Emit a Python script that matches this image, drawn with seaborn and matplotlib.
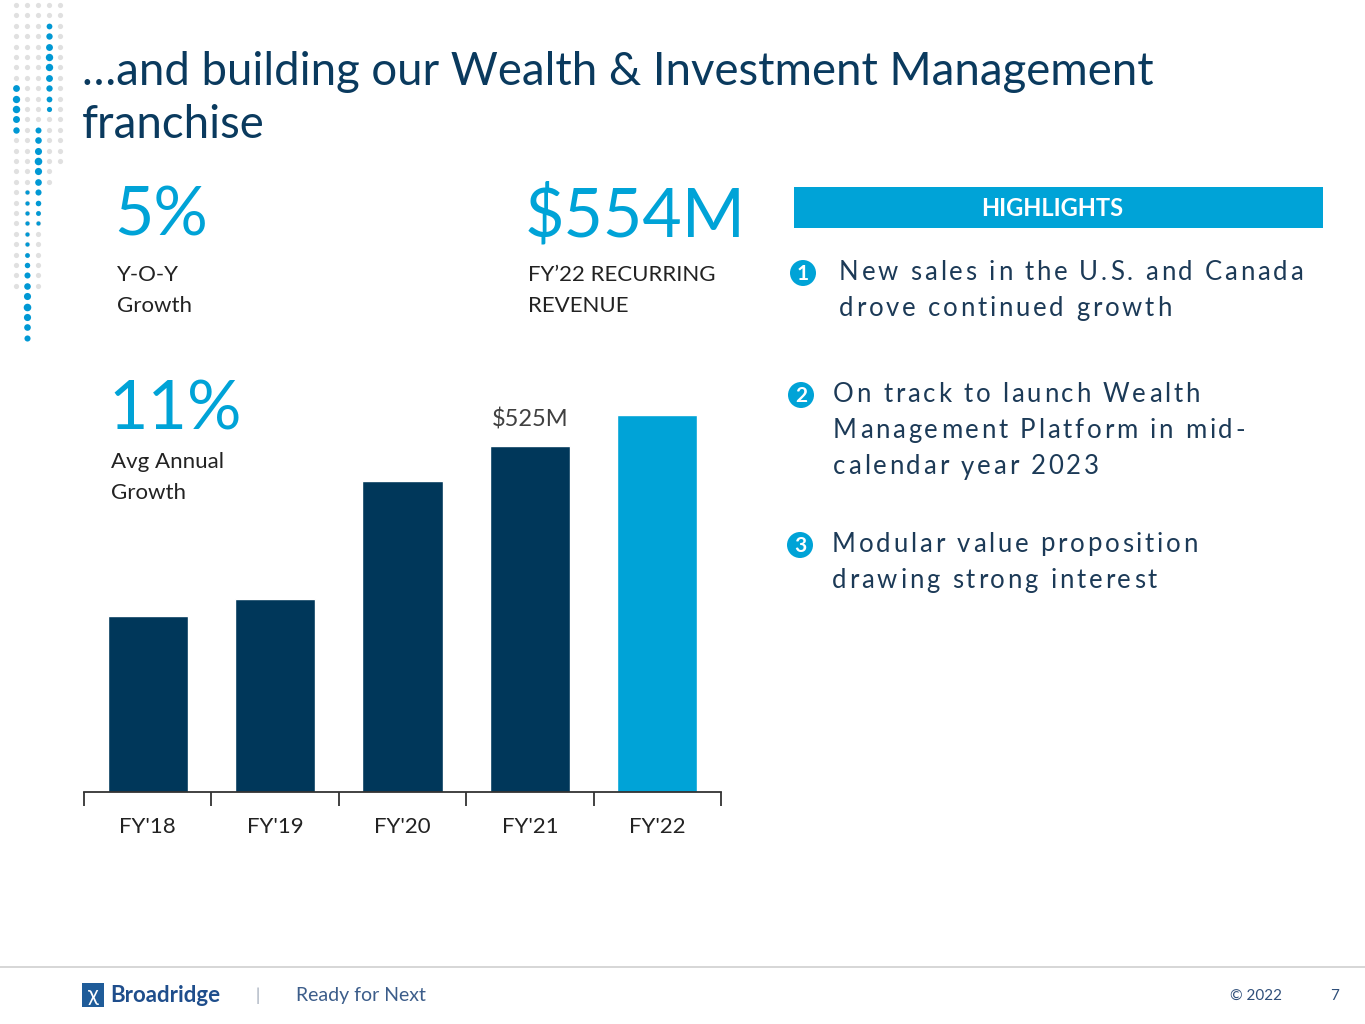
import numpy as np
import matplotlib.pyplot as plt
import seaborn as sns
from matplotlib.patches import Circle, Rectangle
from matplotlib.font_manager import FontProperties
from matplotlib.textpath import TextToPath

# chart data ($M, recurring revenue)
years = ["FY'18", "FY'19", "FY'20", "FY'21", "FY'22"]
revenue = [366, 382, 492, 525, 554]
bar_colors = ["#00375A", "#00375A", "#00375A", "#00375A", "#00A3D7"]

# slide text
title_lines = ["\u2026and building our Wealth & Investment Management", "franchise"]
kpis = [("5%", ["Y-O-Y", "Growth"]),
        ("$554M", ["FY\u201922 RECURRING", "REVENUE"]),
        ("11%", ["Avg Annual", "Growth"])]
highlights = [["New sales in the U.S. and Canada", "drove continued growth"],
              ["On track to launch Wealth", "Management Platform in mid-", "calendar year 2023"],
              ["Modular value proposition", "drawing strong interest"]]

NAVY = "#00375A"
BLUE = "#00A3D7"
TXT = "#1C3A57"

sns.set_theme(style="white")
plt.rcParams['font.family'] = ['Lato', 'DejaVu Sans']

fig = plt.figure(figsize=(13.65, 10.24), dpi=100)

# full-slide overlay in pixel coords
bg = fig.add_axes([0, 0, 1, 1])
bg.set_xlim(0, 1365)
bg.set_ylim(1024, 0)
bg.axis("off")

t2p = TextToPath()


def text_width_px(s, fp):
    w, _, _ = t2p.get_text_width_height_descent(s + "|", fp, ismath=False)
    w0, _, _ = t2p.get_text_width_height_descent("|", fp, ismath=False)
    return (w - w0) * 100 / 72


def spaced_text(x, y, s, size, track, color):
    # draw text with extra letter spacing (px)
    fp = FontProperties(family="Lato", size=size)
    for i, ch in enumerate(s):
        if ch == " ":
            continue
        xi = x + text_width_px(s[:i], fp) + i * track
        bg.text(xi, y, ch, fontproperties=fp, color=color, ha="left", va="center")


# decorative dot column pattern, top-left
dot_cols = [16, 27, 38, 49, 60]
rows = np.arange(5, 345, 10.4)
for ci, cx in enumerate(dot_cols):
    for ry in rows:
        if ry < 250 - ci * 20 or (ci < 3 and ry < 290):
            bg.scatter(cx, ry, s=14, color="#E0E0E0", lw=0, zorder=1)
blue_runs = {49: (27, 109, 62), 16: (88, 130, 105), 38: (130, 225, 162), 27: (193, 340, 307)}
for cx, (y0, y1, ypk) in blue_runs.items():
    for ry in rows[(rows >= y0 - 2) & (rows <= y1 + 2)]:
        sz = 30 - min(abs(ry - ypk), 60) * 0.35
        bg.scatter(cx, ry, s=sz, color="#0098D4", lw=0, zorder=2)

# title
for i, line in enumerate(title_lines):
    bg.text(82, 72 + i * 53, line, fontsize=32.8, color="#0A3A5E", va="center", ha="left")

# KPIs
kpi_pos = [(114, 217, 275), (525, 217, 275), (108, 410, 462)]
for (big, small), (x, yb, ys) in zip(kpis, kpi_pos):
    bg.text(x, yb, big, fontsize=49, color=BLUE, va="center", ha="left")
    for j, s in enumerate(small):
        bg.text(x + 3, ys + j * 31, s, fontsize=16, color="#222222", va="center", ha="left")

# highlights panel
bg.add_patch(Rectangle((794, 187), 529, 41, color=BLUE, lw=0))
bg.text(1052, 209, "HIGHLIGHTS", fontsize=17, color="white", fontweight="bold",
        ha="center", va="center")
hl_size = 18.5
fp_hl = FontProperties(family="Lato", size=hl_size)
first = highlights[0][0]
track = (464 - text_width_px(first, fp_hl)) / (len(first) - 1)
hl_pos = [(803, 273, 839), (801, 395, 833), (800, 545, 832)]
for k, (lines, (cx, cy, tx)) in enumerate(zip(highlights, hl_pos)):
    bg.add_patch(Circle((cx, cy), 13, color=BLUE, lw=0))
    bg.text(cx, cy + 1, str(k + 1), fontsize=15, color="white", fontweight="bold",
            ha="center", va="center")
    for j, s in enumerate(lines):
        spaced_text(tx, cy - 1 + j * 36.5, s, hl_size, track, TXT)

# footer
bg.plot([0, 1365], [967, 967], color="#D0D0D0", lw=1.2)
bg.add_patch(Rectangle((82, 983), 22, 24, color="#1F5C99", lw=0))
bg.text(93, 995, "\u03c7", fontsize=16, color="white", ha="center", va="center")
bg.text(110, 996, "Broadridge", fontsize=16, color="#1F4E8C", fontweight="bold",
        ha="left", va="center")
bg.text(258, 996, "|", fontsize=12, color="#9AA5B5", ha="center", va="center")
bg.text(296, 996, "Ready for Next", fontsize=14, color="#3C5D8A", ha="left", va="center")
bg.text(1230, 996, "\u00a9 2022", fontsize=11, color="#2F4F7A", ha="left", va="center")
bg.text(1330, 996, "7", fontsize=11, color="#2F4F7A", ha="left", va="center")

# bar chart
ax = fig.add_axes([84 / 1365, 1 - 792 / 1024, (721 - 84) / 1365, (792 - 380) / 1024])
ax.patch.set_alpha(0)
sns.barplot(x=years, y=revenue, hue=years, palette=bar_colors, ax=ax,
            width=0.63, legend=False, saturation=1)
ax.set_xlim(-0.5, 4.5)
ax.set_ylim(201.4, 586.6)
for side in ["top", "right", "left"]:
    ax.spines[side].set_visible(False)
ax.spines["bottom"].set_color("#333333")
ax.spines["bottom"].set_linewidth(1.3)
ax.set_yticks([])
ax.set_xticks(np.arange(-0.5, 5, 1), minor=True)
ax.tick_params(axis="x", which="minor", bottom=True, length=10, width=1.3, color="#333333")
ax.tick_params(axis="x", which="major", bottom=False, length=0, pad=18,
               labelsize=16, labelcolor="#222222")
ax.set_xlabel("")
ax.set_ylabel("")
ax.annotate(f"${revenue[3]}M", (3, revenue[3]), xytext=(0, 11), textcoords="offset points",
            ha="center", va="bottom", fontsize=17, color="#404040")

fig.savefig("out.png", dpi=100)
